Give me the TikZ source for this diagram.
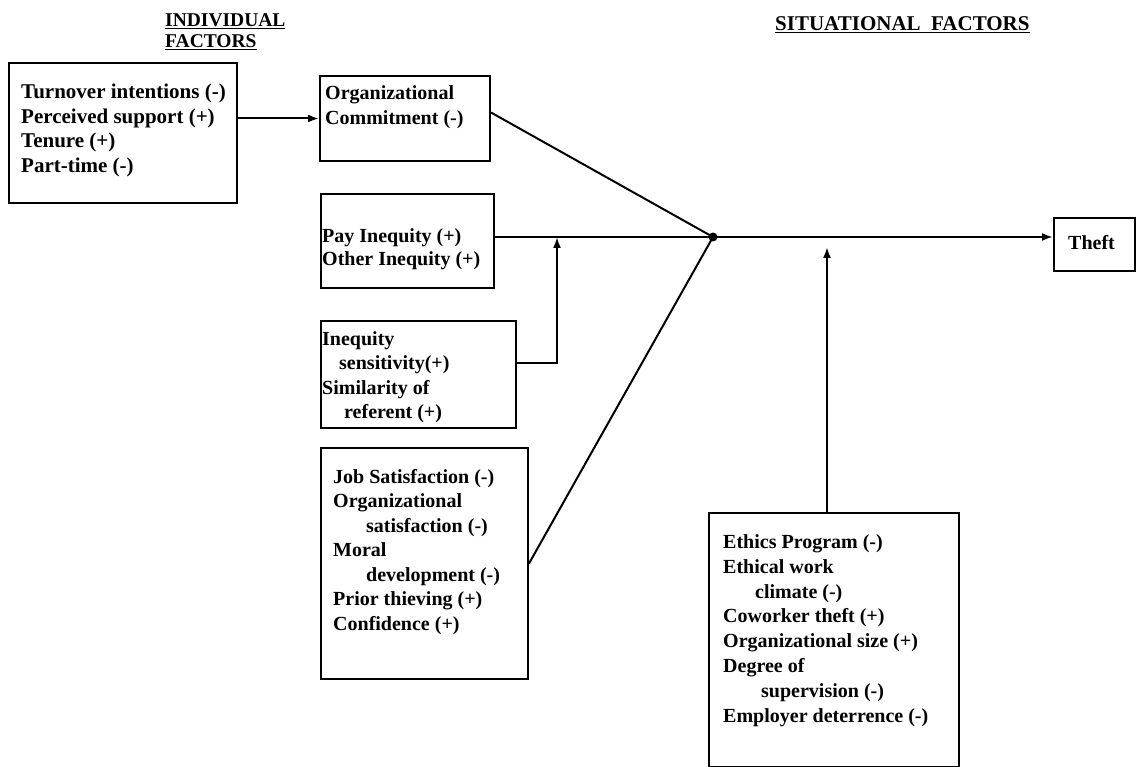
\documentclass[tikz,border=0pt]{standalone}
\usepackage{fontspec}
\setmainfont{Liberation Serif}
\usetikzlibrary{arrows.meta}
\begin{document}
\begin{tikzpicture}[x=1pt,y=-1pt,
  box/.style={draw, line width=2pt, anchor=north west, inner sep=0pt},
  txt/.style={anchor=base west, align=left, inner sep=0pt, font=\fontsize{20}{24.5}\selectfont\bfseries},
  head/.style={anchor=base west, align=left, inner sep=0pt, font=\fontsize{19.5}{21}\selectfont\bfseries},
  con/.style={line width=2pt},
  arr/.style={line width=2pt, -{Latex[length=11pt,width=8pt]}}]
\useasboundingbox (0,0) rectangle (1136,767);
% headers
\node[head] (hind) at (165,48) {\underline{INDIVIDUAL}\\\underline{FACTORS}};
\node[head, font=\fontsize{21}{23}\selectfont\bfseries] (hsit) at (775,31) {\underline{SITUATIONAL\ \ FACTORS}};
% boxes
\node[box, minimum width=228pt, minimum height=140pt] (b1) at (8,62) {};
\node[txt, font=\fontsize{21}{24.5}\selectfont\bfseries] (t1) at (21,172.5) {Turnover intentions (-)\\Perceived support (+)\\Tenure (+)\\Part-time (-)};
\node[box, minimum width=170pt, minimum height=85pt] (b2) at (319,75) {};
\node[txt] (t2) at (325,124.5) {Organizational\\Commitment (-)};
\node[box, minimum width=173pt, minimum height=94pt] (b3) at (320,193) {};
\node[txt, font=\fontsize{20}{23}\selectfont\bfseries] (t3) at (322,266) {Pay Inequity (+)\\Other Inequity (+)};
\node[box, minimum width=195pt, minimum height=107pt] (b4) at (320,320) {};
\node[txt] (t4) at (322,418.5) {Inequity\\\hspace*{17pt}sensitivity(+)\\Similarity of\\\hspace*{22pt}referent (+)};
\node[box, minimum width=207pt, minimum height=231pt] (b5) at (320,447) {};
\node[txt] (t5) at (333,630) {Job Satisfaction (-)\\Organizational\\\hspace*{33pt}satisfaction (-)\\Moral\\\hspace*{33pt}development (-)\\Prior thieving (+)\\Confidence (+)};
\node[box, minimum width=250pt, minimum height=254pt] (b6) at (708,512) {};
\node[txt, font=\fontsize{20}{24.8}\selectfont\bfseries] (t6) at (723,722) {Ethics Program (-)\\Ethical work\\\hspace*{32pt}climate (-)\\Coworker theft (+)\\Organizational size (+)\\Degree of\\\hspace*{38pt}supervision (-)\\Employer deterrence (-)};
\node[box, minimum width=81pt, minimum height=53pt] (b7) at (1053,217) {};
\node[txt] (t7) at (1068,250) {Theft};
% junction
\node[circle, fill, inner sep=0pt, minimum size=9pt] (j) at (713,237) {};
\coordinate (m) at (557,237);
\coordinate (s) at (827,247);
% connectors
\draw[arr] (b1.east |- b2.west) -- (b2.west);
\draw[con] ([yshift=6pt]b2.east) -- (j.center);
\draw[con] (b3.east |- j) -- (j.center);
\draw[arr] ([yshift=11pt]b4.east) -| (m);
\draw[con] (b5.east) -- (j.center);
\draw[arr] (j.center) -- (b7.west |- j);
\draw[arr] (s |- b6.north) -- (s);
\end{tikzpicture}
\end{document}
